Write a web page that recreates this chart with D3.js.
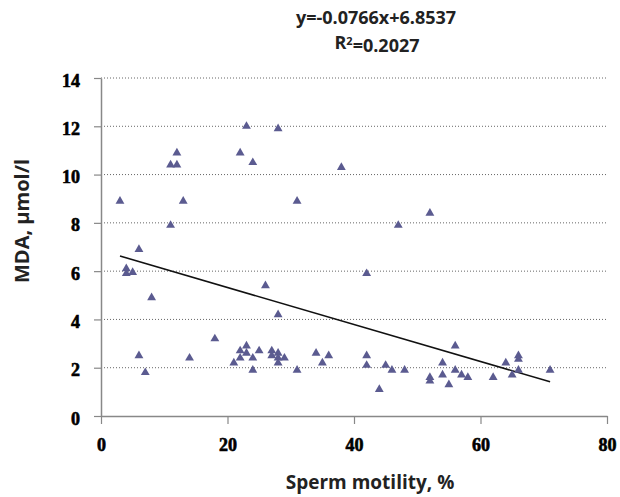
<!DOCTYPE html>
<html>
<head>
<meta charset="utf-8">
<script src="https://cdn.jsdelivr.net/npm/d3@7"></script>
<style>
  body { margin: 0; background: #fff; }
  .tick text { font-family: "Liberation Serif", "DejaVu Serif", serif; font-weight: bold; font-size: 18px; }
</style>
</head>
<body>
<div id="chart"></div>
<script>
const width = 620;
const height = 497;
const margin = { top: 78, right: 11, bottom: 81, left: 101 };

// sperm motility (%) and MDA (umol/l)
const motility = [
  3, 4, 4, 5, 6, 6, 7, 8, 11, 11, 12, 12, 13, 14, 18,
  21, 22, 22, 22, 23, 23, 23, 24, 24, 24, 25, 26, 27, 27,
  28, 28, 28, 28, 28, 29, 31, 31, 34, 35, 36, 38,
  42, 42, 42, 44, 45, 46, 47, 48, 52, 52, 52,
  54, 54, 55, 56, 56, 57, 58, 62, 64, 65, 66, 66, 66, 71
];
const mda = [
  8.9, 6.1, 5.9, 5.95, 6.9, 2.5, 1.8, 4.9, 7.9, 10.4, 10.4, 10.9, 8.9, 2.4, 3.2,
  2.2, 2.4, 2.7, 10.9, 2.9, 2.6, 12.0, 2.4, 1.9, 10.5, 2.7, 5.4, 2.7, 2.5,
  2.6, 2.4, 2.2, 4.2, 11.9, 2.4, 1.9, 8.9, 2.6, 2.2, 2.5, 10.3,
  5.9, 2.5, 2.1, 1.1, 2.1, 1.9, 7.9, 1.9, 8.4, 1.6, 1.45,
  2.2, 1.7, 1.3, 2.9, 1.9, 1.7, 1.6, 1.6, 2.2, 1.7, 2.5, 2.35, 1.9, 1.9
];

const xTicks = [0, 20, 40, 60, 80];
const yTicks = [0, 2, 4, 6, 8, 10, 12, 14];
const slope = -0.0766;
const intercept = 6.8537;
const trendRange = [3, 71];

const points = motility.map((m, i) => ({ x: m, y: mda[i] }));

const xScale = d3.scaleLinear()
  .domain([0, 80])
  .range([margin.left, width - margin.right - 2]);

const yScale = d3.scaleLinear()
  .domain([0, 14])
  .range([height - margin.bottom, margin.top]);

const svg = d3.select("#chart")
  .append("svg")
  .attr("width", width)
  .attr("height", height);

// dotted gridlines
svg.append("g")
  .selectAll("line")
  .data(yTicks.filter(d => d > 0))
  .enter()
  .append("line")
  .attr("x1", xScale(0))
  .attr("x2", xScale(80))
  .attr("y1", d => yScale(d))
  .attr("y2", d => yScale(d))
  .attr("stroke", "#666")
  .attr("stroke-width", 1)
  .attr("stroke-dasharray", "1,2");

const tickFont = "'Liberation Serif', 'DejaVu Serif', serif";

const yAxis = d3.axisLeft(yScale)
  .tickValues(yTicks)
  .tickSize(7)
  .tickPadding(14)
  .tickSizeOuter(0);

const yg = svg.append("g")
  .attr("transform", `translate(${xScale(0)},0)`)
  .call(yAxis);

const xAxis = d3.axisBottom(xScale)
  .tickValues(xTicks)
  .tickSize(8)
  .tickPadding(14)
  .tickSizeOuter(0);

const xg = svg.append("g")
  .attr("transform", `translate(0,${yScale(0)})`)
  .call(xAxis);

[xg, yg].forEach(g => {
  g.attr("font-family", tickFont)
    .attr("font-size", 18)
    .attr("font-weight", "bold");
  g.select(".domain").attr("stroke", "#888").attr("stroke-width", 1.5);
  g.selectAll(".tick line").attr("stroke", "#888").attr("stroke-width", 1.2);
  // heavier digits, like the original
  g.selectAll(".tick text")
    .attr("fill", "#000")
    .attr("stroke", "#000")
    .attr("stroke-width", 0.6);
});
yg.selectAll(".tick text").attr("dy", "0.45em");

// regression line
const trend = d3.line()
  .x(d => xScale(d))
  .y(d => yScale(slope * d + intercept));

svg.append("path")
  .datum(trendRange)
  .attr("d", trend)
  .attr("fill", "none")
  .attr("stroke", "#111")
  .attr("stroke-width", 1.5);

// triangles
const triangle = d3.symbol().type(d3.symbolTriangle).size(34);

svg.append("g")
  .selectAll("path")
  .data(points)
  .enter()
  .append("path")
  .attr("d", triangle)
  .attr("transform", d => `translate(${xScale(d.x)},${yScale(d.y)})`)
  .attr("fill", "#5b5b90");

const titleFont = "'Open Sans', 'Noto Sans', sans-serif";

svg.append("text")
  .attr("x", 376)
  .attr("y", 24)
  .attr("text-anchor", "middle")
  .style("font-family", titleFont)
  .style("font-weight", "bold")
  .style("font-size", "18px")
  .attr("fill", "#222")
  .text(`y=${slope}x+${intercept}`);

const r2 = svg.append("text")
  .attr("x", 377)
  .attr("y", 49)
  .attr("text-anchor", "middle")
  .style("font-family", titleFont)
  .style("font-weight", "bold")
  .style("font-size", "18px")
  .attr("fill", "#222");
r2.append("tspan").text("R");
r2.append("tspan").text("2").attr("dy", "-0.4em").style("font-size", "11px");
r2.append("tspan").text("=0.2027").attr("dy", "0.4em");

svg.append("text")
  .attr("x", 370)
  .attr("y", 489)
  .attr("text-anchor", "middle")
  .style("font-family", titleFont)
  .style("font-weight", "bold")
  .style("font-size", "19px")
  .attr("fill", "#222")
  .text("Sperm motility, %");

svg.append("text")
  .attr("transform", "translate(29,221) rotate(-90)")
  .attr("text-anchor", "middle")
  .style("font-family", titleFont)
  .style("font-weight", "bold")
  .style("font-size", "20px")
  .attr("fill", "#222")
  .text("MDA, µmol/l");
</script>
</body>
</html>
